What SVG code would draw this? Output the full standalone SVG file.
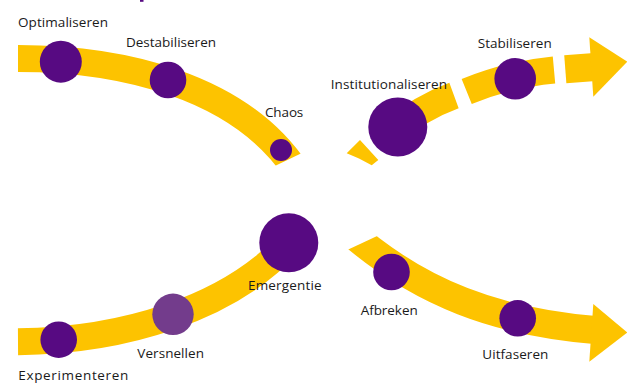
<svg xmlns="http://www.w3.org/2000/svg" width="627" height="387" viewBox="0 0 627 387">
  <defs>
    <style>
      .band { fill: none; stroke: #fdc300; stroke-width: 27; stroke-linecap: butt; }
      .head { fill: #fdc300; }
      .dot { fill: #570a82; }
      .dot2 { fill: #733c8c; }
      .lbl { font-family: "Open Sans", "Noto Sans", sans-serif; font-size: 13.5px; fill: #1a1a1a; }
    </style>
    <clipPath id="clipTL">
      <polygon points="0,0 400,0 400,106 200,202 0,202"/>
    </clipPath>
    <clipPath id="clipBR">
      <polygon points="299.3,272.4 424.3,213.9 640,213.9 640,387 299.3,387"/>
    </clipPath>
  </defs>
  <rect width="627" height="387" fill="#ffffff"/>
  <rect x="140" y="0" width="3.5" height="1.8" fill="#570a82"/>

  <g id="connectors">
    <path class="band" clip-path="url(#clipTL)" d="M18,58.5 C120,58.5 240,85 297,172"/>
    <polygon class="head" points="346.7,153.3 360,140 378.3,160 371.7,165.2 359,158.5"/>
    <path class="band" d="M392,132 Q420,108 454,95.5"/>
    <path class="band" d="M466.7,91.5 Q510,74 554,70"/>
    <path class="band" style="stroke-width:28" d="M565.3,69.3 L595,67"/>
    <polygon class="head" points="589.3,37.3 627.3,61.7 593.3,96.7"/>
    <path class="band" d="M18,341.7 C120,341 230,310 292,240"/>
    <path class="band" style="stroke-width:28" clip-path="url(#clipBR)" d="M345,228 C420,295 500,322 595,330"/>
    <polygon class="head" points="593.3,304 627.3,332.5 589.3,361.7"/>
  </g>

  <g id="optimaliseren">
    <circle class="dot" cx="60.8" cy="61.7" r="21"/>
    <text class="lbl" x="18" y="26.7" textLength="90" lengthAdjust="spacing">Optimaliseren</text>
  </g>
  <g id="destabiliseren">
    <circle class="dot" cx="168" cy="80" r="18.3"/>
    <text class="lbl" x="126" y="47.3" textLength="90" lengthAdjust="spacing">Destabiliseren</text>
  </g>
  <g id="chaos">
    <circle class="dot" cx="281" cy="150" r="11"/>
    <text class="lbl" x="265" y="116.7" textLength="38.3" lengthAdjust="spacing">Chaos</text>
  </g>
  <g id="institutionaliseren">
    <circle class="dot" cx="397.8" cy="127" r="29.5"/>
    <text class="lbl" x="330.7" y="89.3" textLength="116.3" lengthAdjust="spacing">Institutionaliseren</text>
  </g>
  <g id="stabiliseren">
    <circle class="dot" cx="515.2" cy="78.8" r="20.8"/>
    <text class="lbl" x="477.7" y="47.7" textLength="74" lengthAdjust="spacing">Stabiliseren</text>
  </g>
  <g id="emergentie">
    <circle class="dot" cx="288.8" cy="242.8" r="29.5"/>
    <text class="lbl" x="248" y="290" textLength="73.7" lengthAdjust="spacing">Emergentie</text>
  </g>
  <g id="versnellen">
    <circle class="dot2" cx="173" cy="314.3" r="20.7"/>
    <text class="lbl" x="137.3" y="358.3" textLength="66.7" lengthAdjust="spacing">Versnellen</text>
  </g>
  <g id="experimenteren">
    <circle class="dot" cx="58.7" cy="339.7" r="18.3"/>
    <text class="lbl" x="18.3" y="380" textLength="110" lengthAdjust="spacing">Experimenteren</text>
  </g>
  <g id="afbreken">
    <circle class="dot" cx="391.5" cy="272" r="18.3"/>
    <text class="lbl" x="360.7" y="315" textLength="57" lengthAdjust="spacing">Afbreken</text>
  </g>
  <g id="uitfaseren">
    <circle class="dot" cx="517.7" cy="318.3" r="18.3"/>
    <text class="lbl" x="482.3" y="359.3" textLength="66" lengthAdjust="spacing">Uitfaseren</text>
  </g>
</svg>
